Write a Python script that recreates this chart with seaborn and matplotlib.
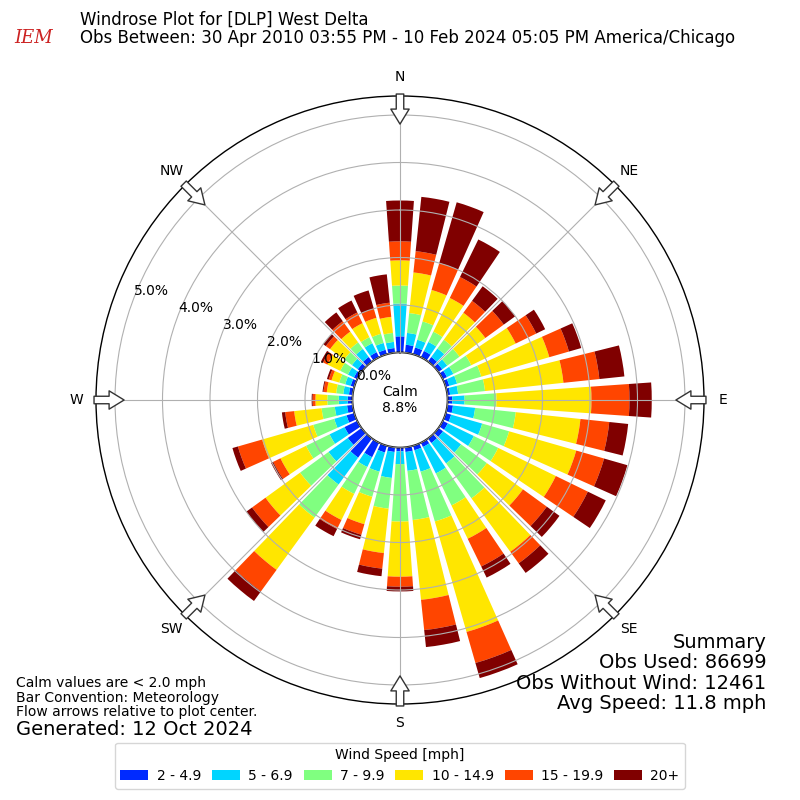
import matplotlib
matplotlib.use("Agg")
import matplotlib.pyplot as plt
import seaborn as sns
import numpy as np

sns.set_theme(style="white")
plt.rcParams['font.family'] = ['DejaVu Sans']
plt.rcParams['text.color'] = 'black'
plt.rcParams['xtick.color'] = 'black'
plt.rcParams['ytick.color'] = 'black'

directions = list(range(0, 360, 10))
speed_bins = ['2 - 4.9', '5 - 6.9', '7 - 9.9', '10 - 14.9', '15 - 19.9', '20+']
colors = ['#002aff', '#00d5ff', '#80ff80', '#ffe600', '#ff4500', '#800000']

# cumulative percent at top of each speed bin, one row per direction (0..350 deg)
cum = [
    [0.34, 1.03, 1.41, 1.94, 2.34, 3.20],
    [0.17, 0.42, 0.84, 1.70, 2.15, 3.30],
    [0.15, 0.32, 0.72, 1.41, 2.00, 3.33],
    [0.15, 0.36, 0.60, 1.39, 1.88, 2.76],
    [0.12, 0.34, 0.57, 1.27, 1.58, 1.96],
    [0.10, 0.23, 0.55, 1.22, 1.70, 2.00],
    [0.10, 0.25, 0.67, 1.71, 2.19, 2.40],
    [0.08, 0.25, 0.78, 2.27, 2.70, 2.97],
    [0.06, 0.23, 0.80, 2.46, 3.22, 3.75],
    [0.10, 0.36, 1.03, 3.03, 3.83, 4.30],
    [0.12, 0.59, 1.45, 2.82, 3.43, 3.83],
    [0.12, 0.80, 1.39, 2.86, 3.47, 3.98],
    [0.12, 0.73, 1.30, 2.65, 3.40, 3.82],
    [0.12, 0.59, 1.26, 2.20, 2.82, 3.15],
    [0.12, 0.65, 1.56, 2.95, 3.25, 3.50],
    [0.10, 0.72, 1.47, 2.25, 2.90, 3.16],
    [0.10, 0.57, 1.66, 4.08, 4.76, 5.09],
    [0.10, 0.50, 1.54, 3.23, 3.87, 4.23],
    [0.08, 0.35, 1.56, 2.72, 2.93, 3.03],
    [0.10, 0.65, 1.30, 2.24, 2.57, 2.73],
    [0.15, 0.57, 1.12, 1.72, 1.95, 2.05],
    [0.34, 0.57, 1.20, 1.81, 2.02, 2.19],
    [0.50, 1.20, 2.06, 3.42, 3.98, 4.23],
    [0.36, 0.86, 1.60, 2.50, 2.85, 3.00],
    [0.30, 0.65, 1.20, 1.80, 1.97, 2.02],
    [0.17, 0.44, 0.90, 2.02, 2.55, 2.67],
    [0.12, 0.38, 0.66, 1.24, 1.43, 1.50],
    [0.10, 0.29, 0.53, 0.78, 0.84, 0.86],
    [0.08, 0.20, 0.35, 0.55, 0.62, 0.64],
    [0.08, 0.20, 0.33, 0.50, 0.56, 0.60],
    [0.08, 0.22, 0.40, 0.70, 0.80, 0.85],
    [0.10, 0.25, 0.45, 0.82, 0.93, 1.00],
    [0.12, 0.33, 0.50, 0.78, 1.05, 1.28],
    [0.12, 0.33, 0.47, 0.80, 1.05, 1.33],
    [0.10, 0.25, 0.45, 0.80, 1.00, 1.40],
    [0.10, 0.23, 0.42, 0.76, 1.06, 1.66],
]
calm_pct = 8.8
rings = [0, 1, 2, 3, 4, 5]
compass = ['N', 'NE', 'E', 'SE', 'S', 'SW', 'W', 'NW']

cum = np.array(cum)
seg = np.diff(np.hstack([np.zeros((len(cum), 1)), cum]), axis=1)
theta = np.deg2rad(directions)

fig = plt.figure(figsize=(8, 8), dpi=100)
ax = fig.add_axes([0.12, 0.12, 0.76, 0.76], projection='polar')
ax.set_theta_zero_location('N')
ax.set_theta_direction(-1)
ax.set_rorigin(-1.0)
ax.set_ylim(0, 5.4)
ax.set_axisbelow(False)

width = np.deg2rad(8)
bottom = np.zeros(len(directions))
for i, lab in enumerate(speed_bins):
    ax.bar(theta, seg[:, i], width=width, bottom=bottom, color=colors[i],
           label=lab, linewidth=0, zorder=1)
    bottom += seg[:, i]

ax.set_yticks(rings)
ax.set_yticklabels([f"{r:.1f}%" for r in rings], fontsize=10)
ax.set_rlabel_position(291)
ax.set_xticks(np.deg2rad(np.arange(0, 360, 45)))
ax.set_xticklabels(compass, fontsize=10)
ax.tick_params(axis='x', pad=1)
ax.grid(True, color='#b0b0b0', linewidth=0.8)
ax.spines['polar'].set_color('black')
ax.spines['polar'].set_linewidth(1)

# calm circle edge
tt = np.linspace(0, 2 * np.pi, 200)
ax.plot(tt, np.zeros_like(tt), color='black', linewidth=1.2, zorder=2)
ax.text(0, -1, f"Calm\n{calm_pct}%", ha='center', va='center', fontsize=10, zorder=6)

# flow arrows at compass points
for a in np.arange(0, 360, 45):
    t = np.deg2rad(a)
    ax.annotate('', xy=(t, 4.75), xytext=(t, 5.5), annotation_clip=False,
                arrowprops=dict(arrowstyle='simple,head_width=1.1,head_length=0.9,tail_width=0.45',
                                fc='white', ec='#333333', lw=1), zorder=7)

fig.text(0.1, 0.975, "Windrose Plot for [DLP] West Delta", fontsize=12, va='center')
fig.text(0.1, 0.952, "Obs Between: 30 Apr 2010 03:55 PM - 10 Feb 2024 05:05 PM America/Chicago",
         fontsize=12, va='center')
fig.text(0.018, 0.952, "IEM", fontsize=13, color='#cc2222', style='italic',
         family='DejaVu Serif', va='center')

fig.text(0.958, 0.159, "Summary\nObs Used: 86699\nObs Without Wind: 12461\nAvg Speed: 11.8 mph",
         ha='right', va='center', fontsize=14, linespacing=1.1)
fig.text(0.02, 0.128, "Calm values are < 2.0 mph\nBar Convention: Meteorology\nFlow arrows relative to plot center.",
         fontsize=10, va='center', linespacing=1.05)
fig.text(0.02, 0.088, "Generated: 12 Oct 2024", fontsize=14, va='center')

handles, labels = ax.get_legend_handles_labels()
fig.legend(handles, labels, loc='center', bbox_to_anchor=(0.5, 0.043), ncol=6,
           title="Wind Speed [mph]", fontsize=10, title_fontsize=10, frameon=True,
           handlelength=2, columnspacing=0.8, handletextpad=0.6, handleheight=0.7)

fig.savefig('out.png', dpi=100)
